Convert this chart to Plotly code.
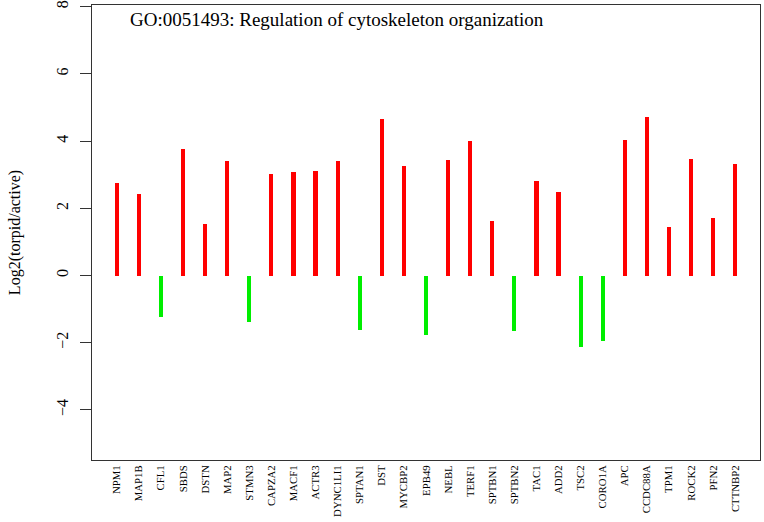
import plotly.graph_objects as go

genes = ["NPM1", "MAP1B", "CFL1", "SBDS", "DSTN", "MAP2", "STMN3", "CAPZA2", "MACF1", "ACTR3",
         "DYNC1LI1", "SPTAN1", "DST", "MYCBP2", "EPB49", "NEBL", "TERF1", "SPTBN1", "SPTBN2", "TAC1",
         "ADD2", "TSC2", "CORO1A", "APC", "CCDC88A", "TPM1", "ROCK2", "PFN2", "CTTNBP2"]
log2fc = [2.74, 2.43, -1.23, 3.77, 1.52, 3.42, -1.38, 3.03, 3.09, 3.11,
          3.42, -1.61, 4.67, 3.25, -1.76, 3.45, 4.0, 1.62, -1.66, 2.81,
          2.5, -2.13, -1.95, 4.04, 4.72, 1.44, 3.46, 1.7, 3.31]
title_text = "GO:0051493: Regulation of cytoskeleton organization"
y_ticks = [-4, -2, 0, 2, 4, 6, 8]

x = list(range(1, len(genes) + 1))
colors = ["#FF0000" if v > 0 else "#00EE00" for v in log2fc]

fig = go.Figure()
fig.add_trace(go.Bar(x=x, y=log2fc, width=0.19, marker=dict(color=colors, line=dict(width=0)),
                     showlegend=False))

font_family = "Liberation Serif, Times New Roman, serif"
n = len(genes)
pad = (n - 1) * 0.04
fig.update_layout(
    width=764, height=522,
    margin=dict(l=92, r=4, t=5, b=62, autoexpand=False),
    plot_bgcolor="white", paper_bgcolor="white",
    font=dict(family=font_family, color="black"),
    bargap=0,
    xaxis=dict(range=[1 - pad, n + pad], tickmode="array", tickvals=x, ticktext=genes,
               tickangle=-90, tickfont=dict(size=10.8, family=font_family),
               showgrid=False, zeroline=False, showline=True, mirror=True,
               linecolor="#333333", linewidth=1, ticks="", automargin=False),
    yaxis=dict(range=[-5.49, 8.05], tickmode="array", tickvals=y_ticks,
               tickangle=-90, tickfont=dict(size=16, family=font_family),
               ticks="outside", ticklen=11, tickcolor="#333333", ticklabelstandoff=6,
               showgrid=False, zeroline=False, showline=True, mirror=True,
               linecolor="#333333", linewidth=1, automargin=False,
               title=dict(text="Log2(torpid/active)", font=dict(size=16, family=font_family),
                          standoff=28)),
    annotations=[dict(text=title_text, xref="paper", yref="paper", x=0.054, y=0.995,
                      xanchor="left", yanchor="top", showarrow=False,
                      font=dict(size=19, family=font_family, color="black"))],
)

fig.write_html("out.html", config={"displayModeBar": False},
               post_script="document.body.style.margin='0';")
